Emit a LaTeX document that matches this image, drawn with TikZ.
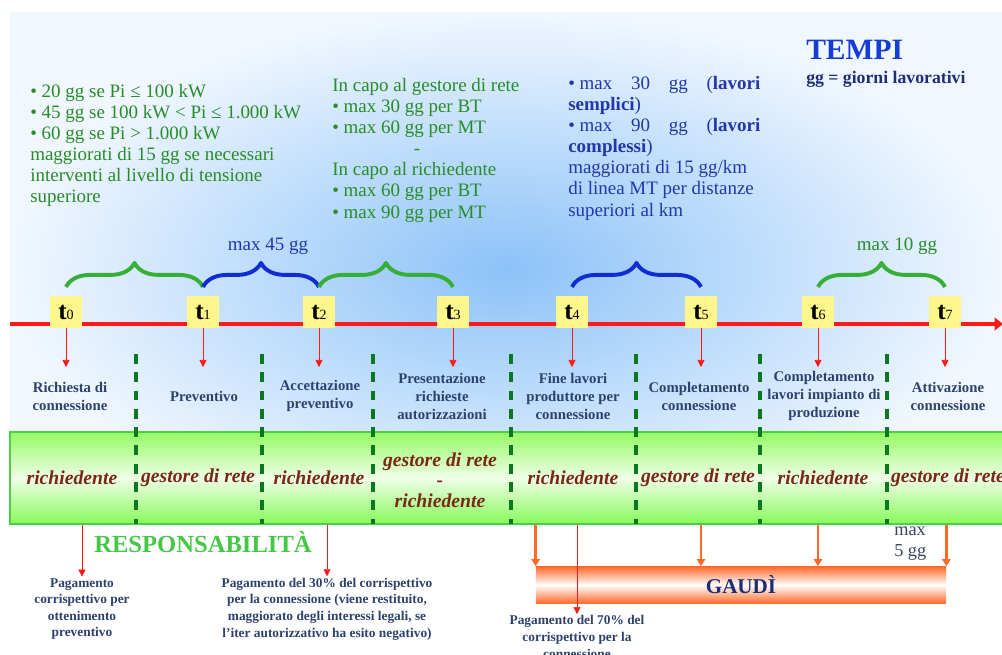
\documentclass[tikz,border=0pt]{standalone}
\usepackage{fontspec}
\setmainfont{Liberation Serif}
\usetikzlibrary{arrows.meta, positioning, decorations.pathreplacing, calc}

\definecolor{topgreen}{RGB}{40,140,40}
\definecolor{topblue}{RGB}{35,55,170}
\definecolor{navytext}{RGB}{30,45,120}
\definecolor{labelblue}{RGB}{45,65,110}
\definecolor{rolebrown}{RGB}{120,40,20}
\definecolor{dashgreen}{RGB}{10,120,30}
\definecolor{linered}{RGB}{255,25,25}
\definecolor{boxyellow}{RGB}{255,246,140}
\definecolor{bracegreencol}{RGB}{55,175,55}
\definecolor{braceblucol}{RGB}{15,45,210}
\definecolor{gaudiorange}{RGB}{255,105,40}
\definecolor{bgblue}{RGB}{140,194,248}
\definecolor{bglight}{RGB}{240,247,255}
\definecolor{bandgreen}{RGB}{150,250,100}
\definecolor{bandedge}{RGB}{80,205,70}
\definecolor{titleblue}{RGB}{20,60,215}
\definecolor{respgreen}{RGB}{70,200,70}
\definecolor{greytext}{RGB}{60,70,100}

\tikzset{
    tickbox/.style={rectangle, fill=boxyellow, minimum width=0.82cm, minimum height=0.8cm, inner sep=0pt, font=\fontsize{18}{18}\selectfont},
    phase/.style={align=center, text=labelblue, font=\fontsize{10.5}{12.8}\selectfont\bfseries, inner sep=0pt},
    role/.style={align=center, text=rolebrown, font=\fontsize{14}{14.5}\selectfont\bfseries\itshape, inner sep=0pt},
    paynote/.style={align=center, text=labelblue, font=\fontsize{9.5}{11.8}\selectfont\bfseries, inner sep=1pt},
    greennote/.style={align=left, anchor=north west, text=topgreen, font=\fontsize{13.5}{15}\selectfont, inner sep=0pt},
    bluenote/.style={align=justify, text width=4.8cm, anchor=north west, text=topblue, font=\fontsize{13.5}{15}\selectfont, inner sep=0pt},
    roleband/.style={rectangle, draw=bandedge, line width=1pt, top color=bandgreen, bottom color=bandgreen!90!green, middle color=white!85!bandgreen, minimum width=25cm, minimum height=2.3cm},
    gaudibar/.style={rectangle, top color=gaudiorange, bottom color=gaudiorange, middle color=white, minimum width=10.25cm, minimum height=0.93cm, text=navytext, font=\fontsize{15}{15}\selectfont\bfseries},
    timeline/.style={draw=linered, line width=3.5pt, -{Triangle[width=9pt,length=6pt]}},
    redarrow/.style={draw=linered, line width=0.5pt, -{Triangle[width=5pt,length=5pt]}},
    orangearrow/.style={draw=gaudiorange, line width=1.8pt, -{Triangle[width=6pt,length=5pt]}},
    divider/.style={draw=dashgreen, line width=2.6pt, dash pattern=on 7pt off 6pt},
    greenbrace/.style={draw=bracegreencol, line width=2.8pt, line join=round, decorate, decoration={brace, amplitude=0.6cm}},
    bluebrace/.style={draw=braceblucol, line width=2.8pt, line join=round, decorate, decoration={brace, amplitude=0.6cm}}
}

\begin{document}
\begin{tikzpicture}[x=0.025cm, y=-0.025cm]
    \useasboundingbox (0,0) rectangle (1002,654);
    \fill [white] (0,0) rectangle (1002,654);
    \shade [inner color=bgblue, outer color=bglight] (10,12) rectangle (1002,526);

    \node (band) [roleband] at (510,478) {};

    \draw [divider] (136,354) -- (136,524);
    \draw [divider] (262,354) -- (262,524);
    \draw [divider] (373,354) -- (373,524);
    \draw [divider] (511,354) -- (511,524);
    \draw [divider] (636,354) -- (636,524);
    \draw [divider] (760,354) -- (760,524);
    \draw [divider] (887,354) -- (887,524);

    \coordinate (lineStart) at (10,324);
    \coordinate (lineEnd) at (1003,324);
    \coordinate (tipline) at (0,367);
    \draw [timeline] (lineStart) -- (lineEnd);

    \node (t0) [tickbox] at (66,312) {\textbf{t}{\fontsize{10}{10}\selectfont 0}};
    \node (t1) [tickbox] at (203,312) {\textbf{t}{\fontsize{10}{10}\selectfont 1}};
    \node (t2) [tickbox] at (319,312) {\textbf{t}{\fontsize{10}{10}\selectfont 2}};
    \node (t3) [tickbox] at (453,312) {\textbf{t}{\fontsize{10}{10}\selectfont 3}};
    \node (t4) [tickbox] at (572,312) {\textbf{t}{\fontsize{10}{10}\selectfont 4}};
    \node (t5) [tickbox] at (701,312) {\textbf{t}{\fontsize{10}{10}\selectfont 5}};
    \node (t6) [tickbox] at (818,312) {\textbf{t}{\fontsize{10}{10}\selectfont 6}};
    \node (t7) [tickbox] at (945,312) {\textbf{t}{\fontsize{10}{10}\selectfont 7}};

    \draw [redarrow] (t0.south) -- (t0 |- tipline);
    \draw [redarrow] (t1.south) -- (t1 |- tipline);
    \draw [redarrow] (t2.south) -- (t2 |- tipline);
    \draw [redarrow] (t3.south) -- (t3 |- tipline);
    \draw [redarrow] (t4.south) -- (t4 |- tipline);
    \draw [redarrow] (t5.south) -- (t5 |- tipline);
    \draw [redarrow] (t6.south) -- (t6 |- tipline);
    \draw [redarrow] (t7.south) -- (t7 |- tipline);

    \draw [greenbrace] ([yshift=0.22cm]t0.north) -- ([yshift=0.22cm]t1.north);
    \draw [bluebrace] ([yshift=0.22cm]t1.north) -- ([yshift=0.22cm]t2.north);
    \draw [greenbrace] ([yshift=0.22cm]t2.north) -- ([yshift=0.22cm]t3.north);
    \draw [bluebrace] ([yshift=0.22cm]t4.north) -- ([yshift=0.22cm]t5.north);
    \draw [greenbrace] ([yshift=0.22cm]t6.north) -- ([yshift=0.22cm]t7.north);

    \node (max45) [text=topblue, font=\fontsize{13.5}{15}\selectfont] at (268,246) {max 45 gg};
    \node (max10) [text=topgreen, font=\fontsize{13.5}{15}\selectfont] at (897,246) {max 10 gg};

    \node (lab0) [phase] at (70,396) {Richiesta di\\connessione};
    \node (lab1) [phase] at (204,396) {Preventivo};
    \node (lab2) [phase] at (320,396) {Accettazione\\preventivo};
    \node (lab3) [phase] at (442,396) {Presentazione\\richieste\\autorizzazioni};
    \node (lab4) [phase] at (573,396) {Fine lavori\\produttore per\\connessione};
    \node (lab5) [phase] at (699,396) {Completamento\\connessione};
    \node (lab6) [phase] at (824,396) {Completamento\\lavori impianto di\\produzione};
    \node (lab7) [phase] at (948,396) {Attivazione\\connessione};

    \node (role0) [role] at (72,478) {richiedente};
    \node (role1) [role] at (198,478) {gestore di rete};
    \node (role2) [role] at (319,478) {richiedente};
    \node (role3) [role] at (440,480) {gestore di rete\\-\\richiedente};
    \node (role4) [role] at (573,478) {richiedente};
    \node (role5) [role] at (698,478) {gestore di rete};
    \node (role6) [role] at (823,478) {richiedente};
    \node (role7) [role] at (948,478) {gestore di rete};

    \node (leftnote) [greennote] at (30,84) {• 20 gg se Pi ≤ 100 kW\\• 45 gg se 100 kW < Pi ≤ 1.000 kW\\• 60 gg se Pi > 1.000 kW\\maggiorati di 15 gg se necessari\\interventi al livello di tensione\\superiore};
    \node (midnote) [greennote] at (332,78) {In capo al gestore di rete\\• max 30 gg per BT\\• max 60 gg per MT\\\hspace*{58pt}-\\In capo al richiedente\\• max 60 gg per BT\\• max 90 gg per MT};
    \node (rightnote) [bluenote] at (568,76) {\hbox{• max} 30 gg (\textbf{lavori}\linebreak\textbf{semplici})\newline \hbox{• max} 90 gg (\textbf{lavori}\linebreak\textbf{complessi})\newline maggiorati di 15 gg/km\newline di linea MT per distanze\newline superiori al km};

    \node (tempi) [anchor=base west, inner sep=0pt, text=titleblue, font=\fontsize{21}{21}\selectfont\bfseries] at (806,59) {TEMPI};
    \node (ggnote) [anchor=base west, inner sep=0pt, text=navytext, font=\fontsize{12.6}{14}\selectfont\bfseries] at (806,83) {gg = giorni lavorativi};

    \node (resp) [anchor=base west, inner sep=0pt, text=respgreen, font=\fontsize{17.5}{17.5}\selectfont\bfseries] at (94,552) {RESPONSABILITÀ};

    \node (gaudi) [gaudibar] at (741,585) {GAUDÌ};
    \node (maxfive) [anchor=west, align=left, inner sep=0pt, text=greytext, font=\fontsize{13}{15}\selectfont] at (894,544) {max\\5 gg};

    \draw [orangearrow] (band.south -| gaudi.west) -- (gaudi.north west);
    \draw [orangearrow] (band.south -| t5) -- (gaudi.north -| t5);
    \draw [orangearrow] (band.south -| t6) -- (gaudi.north -| t6);
    \draw [orangearrow] (band.south -| gaudi.east) -- (gaudi.north east);

    \node (pay0) [paynote] at (82,609) {Pagamento\\corrispettivo per\\ottenimento\\preventivo};
    \node (pay30) [paynote] at (327,609) {Pagamento del 30\% del corrispettivo\\per la connessione (viene restituito,\\maggiorato degli interessi legali, se\\l’iter autorizzativo ha esito negativo)};
    \node (pay70) [paynote] at (577,637) {Pagamento del 70\% del\\corrispettivo per la\\connessione};

    \draw [redarrow] (band.south -| pay0) -- (pay0.north);
    \draw [redarrow] (band.south -| pay30) -- (pay30.north);
    \draw [redarrow] (band.south -| pay70) -- (pay70.north);
\end{tikzpicture}
\end{document}
